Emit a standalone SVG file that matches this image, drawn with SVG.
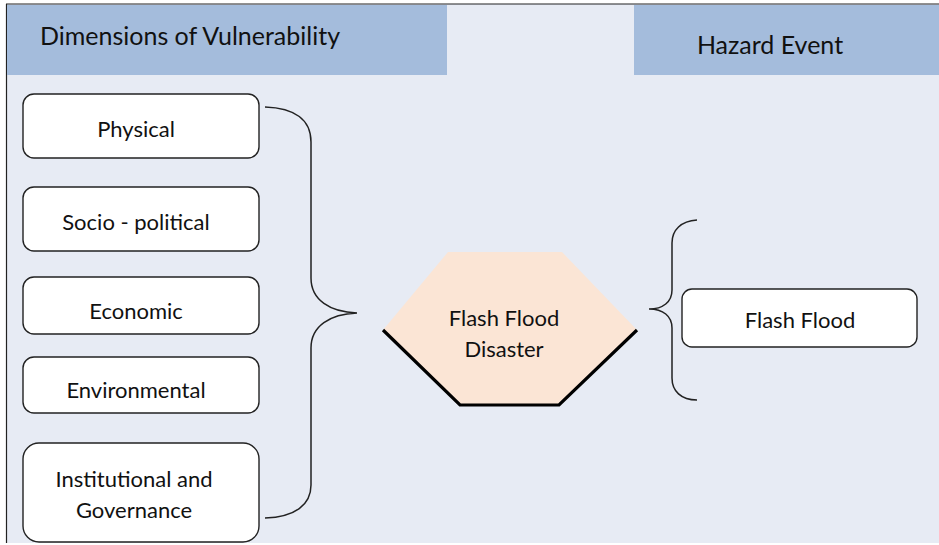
<svg xmlns="http://www.w3.org/2000/svg" width="939" height="545" viewBox="0 0 939 545">
  <style>
    .lbl { font-family: Lato, "Open Sans", "Liberation Sans", sans-serif; fill: #111; text-anchor: middle; }
    .hdr { font-size: 25px; }
    .body { font-size: 22px; }
    .box { fill: #ffffff; stroke: #222; stroke-width: 1.4; }
    .brace { fill: none; stroke: #222; stroke-width: 1.5; }
  </style>

  <!-- canvas -->
  <rect x="0" y="0" width="939" height="545" fill="#ffffff"/>
  <rect x="6" y="4" width="933" height="539" fill="#E7EBF4"/>
  <line x1="6" y1="4" x2="939" y2="4" stroke="#222" stroke-width="1.2"/>
  <line x1="6.5" y1="4" x2="6.5" y2="543" stroke="#222" stroke-width="1.2"/>

  <!-- column headers -->
  <g id="header-vulnerability">
    <rect x="7" y="5" width="440" height="70" fill="#A4BCDC"/>
    <text class="lbl hdr" x="190" y="45">Dimensions of Vulnerability</text>
  </g>
  <g id="header-hazard">
    <rect x="634" y="5" width="305" height="70" fill="#A4BCDC"/>
    <text class="lbl hdr" x="770" y="54">Hazard Event</text>
  </g>

  <!-- vulnerability dimensions -->
  <g id="physical">
    <rect class="box" x="23" y="94" width="236" height="64" rx="11"/>
    <text class="lbl body" x="136" y="137">Physical</text>
  </g>
  <g id="socio-political">
    <rect class="box" x="23" y="187" width="236" height="64" rx="11"/>
    <text class="lbl body" x="136" y="230">Socio - political</text>
  </g>
  <g id="economic">
    <rect class="box" x="23" y="277" width="236" height="57" rx="11"/>
    <text class="lbl body" x="136" y="319">Economic</text>
  </g>
  <g id="environmental">
    <rect class="box" x="23" y="357" width="236" height="56" rx="11"/>
    <text class="lbl body" x="136" y="398">Environmental</text>
  </g>
  <g id="institutional">
    <rect class="box" x="23" y="443" width="236" height="99" rx="16"/>
    <text class="lbl body" x="134" y="487">Institutional and</text>
    <text class="lbl body" x="134" y="518">Governance</text>
  </g>

  <!-- central disaster node -->
  <g id="disaster">
    <polygon points="448,252 562,252 637,330 561,405 458,405 383,330" fill="#FBE5D5"/>
    <polyline points="383,330 460,405 559,405 637,330" fill="none" stroke="#000" stroke-width="3.2" stroke-linejoin="miter"/>
    <text class="lbl body" x="504" y="326">Flash Flood</text>
    <text class="lbl body" x="504" y="357">Disaster</text>
  </g>

  <!-- hazard event -->
  <g id="flash-flood">
    <rect class="box" x="682" y="289" width="235" height="58" rx="10"/>
    <text class="lbl body" x="800" y="328">Flash Flood</text>
  </g>

  <!-- grouping braces -->
  <g id="connectors">
    <path class="brace" d="M265,107 C295,108 311,120 311,142 L311,278 C311,300 330,312 357,313 C330,314 311,326 311,348 L311,485 C311,505 295,517 265,518"/>
    <path class="brace" d="M697,220 C681,221 672,230 672,243 L672,290 C672,302 663,309 649,309 C663,309 672,316 672,328 L672,378 C672,391 681,400 697,400"/>
  </g>
</svg>
